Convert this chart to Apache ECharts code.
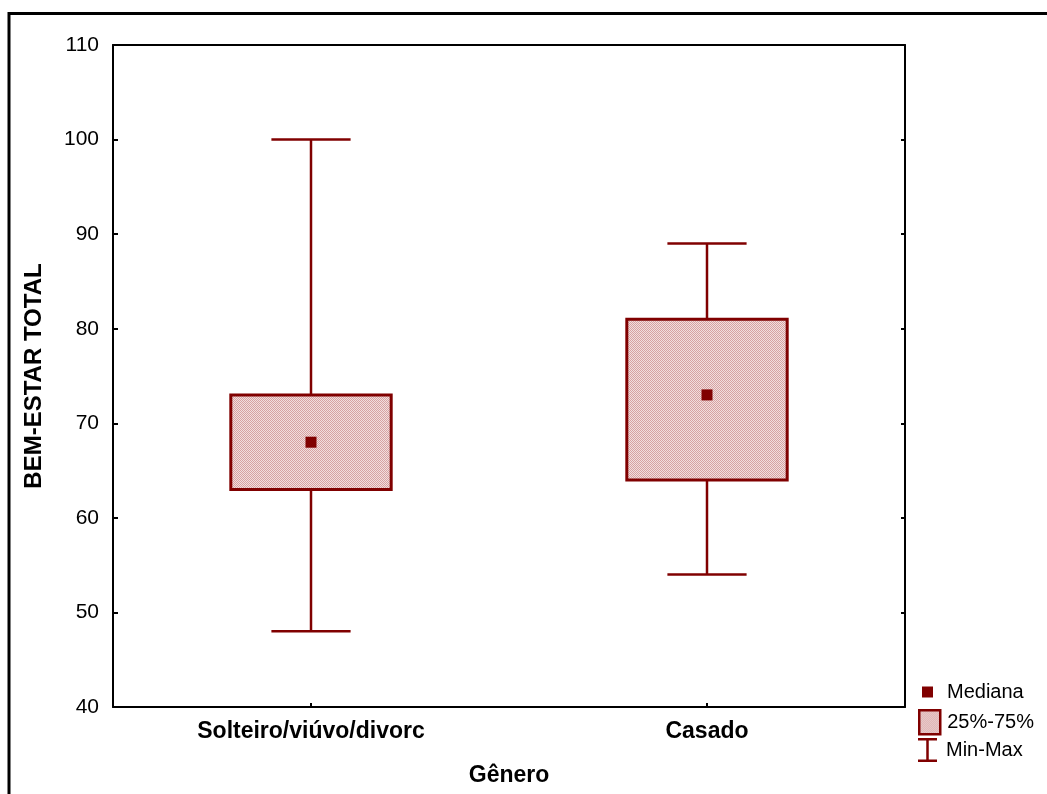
<!DOCTYPE html>
<html>
<head>
<meta charset="utf-8">
<script src="https://cdn.jsdelivr.net/npm/echarts@6/dist/echarts.min.js"></script>
<style>
  html, body { margin: 0; padding: 0; background: #fff; }
  #main { width: 1047px; height: 794px; }
</style>
</head>
<body>
<div id="main"></div>
<script>
// dados do gráfico
var categories = ['Solteiro/viúvo/divorc', 'Casado'];
var minVals = [48, 54];
var q1Vals = [63, 64];
var medianVals = [68, 73];
var q3Vals = [73, 81];
var maxVals = [100, 89];
var yTicks = { min: 40, max: 110, interval: 10 };

var DARK = '#800000';

// preenchimento quadriculado da caixa
var pat = document.createElement('canvas');
pat.width = 2; pat.height = 2;
var pctx = pat.getContext('2d');
pctx.fillStyle = '#f2dede'; pctx.fillRect(0, 0, 2, 2);
pctx.fillStyle = '#d6a2a2'; pctx.fillRect(0, 0, 1, 1); pctx.fillRect(1, 1, 1, 1);
var boxFill = { image: pat, repeat: 'repeat' };

var whiskerData = categories.map(function (c, i) {
    return [i, minVals[i], q1Vals[i], q3Vals[i], maxVals[i]];
});
var boxData = categories.map(function (c, i) {
    return [i, q1Vals[i], q3Vals[i]];
});
var medianData = categories.map(function (c, i) {
    return [i, medianVals[i]];
});

function renderWhisker(params, api) {
    var idx = api.value(0);
    var pMin = api.coord([idx, api.value(1)]);
    var pQ1 = api.coord([idx, api.value(2)]);
    var pQ3 = api.coord([idx, api.value(3)]);
    var pMax = api.coord([idx, api.value(4)]);
    var cw = api.size([1, 0])[0] * 0.2 / 2;
    var st = { stroke: DARK, lineWidth: 2.5, fill: null };
    return {
        type: 'group',
        children: [
            { type: 'line', shape: { x1: pMin[0], y1: pMin[1], x2: pQ1[0], y2: pQ1[1] }, style: st },
            { type: 'line', shape: { x1: pQ3[0], y1: pQ3[1], x2: pMax[0], y2: pMax[1] }, style: st },
            { type: 'line', shape: { x1: pMin[0] - cw, y1: pMin[1], x2: pMin[0] + cw, y2: pMin[1] }, style: st },
            { type: 'line', shape: { x1: pMax[0] - cw, y1: pMax[1], x2: pMax[0] + cw, y2: pMax[1] }, style: st }
        ]
    };
}

function renderBox(params, api) {
    var idx = api.value(0);
    var pLo = api.coord([idx, api.value(1)]);
    var pHi = api.coord([idx, api.value(2)]);
    var w = api.size([1, 0])[0] * 0.405;
    return {
        type: 'rect',
        shape: { x: pHi[0] - w / 2, y: pHi[1], width: w, height: pLo[1] - pHi[1] },
        style: { fill: boxFill, stroke: DARK, lineWidth: 3 }
    };
}

var myChart = echarts.init(document.getElementById('main'));
myChart.setOption({
    animation: false,
    textStyle: { fontFamily: 'Liberation Sans, Arial, sans-serif', color: '#000' },
    grid: { left: 113, top: 45, right: 142, bottom: 87 },
    graphic: [{
        type: 'polyline',
        shape: { points: [[9, 810], [9, 13.5], [1060, 13.5]] },
        style: { stroke: '#000', lineWidth: 3, fill: null }
    }],
    legend: [{
        data: [{ name: 'Mediana', icon: 'rect', itemStyle: { color: DARK, opacity: 1 } }],
        left: 922, top: 682, padding: 0, itemWidth: 11, itemHeight: 11, selectedMode: false,
        textStyle: { fontSize: 20, color: '#000', padding: [0, 0, 0, 9] }
    }, {
        data: [{ name: '25%-75%', icon: 'rect', itemStyle: { color: boxFill, borderColor: DARK, borderWidth: 2.5 } }],
        left: 918, top: 709, padding: 0, itemWidth: 21, itemHeight: 24, selectedMode: false,
        textStyle: { fontSize: 20, color: '#000', padding: [0, 0, 0, 2] }
    }, {
        data: [{ name: 'Min-Max', icon: 'path://M0,0H19V2.5H10.75V21.5H19V24H0V21.5H8.25V2.5H0Z', itemStyle: { color: DARK } }],
        left: 918, top: 738, padding: 0, itemWidth: 19, itemHeight: 24, selectedMode: false,
        textStyle: { fontSize: 20, color: '#000', padding: [0, 0, 0, 4] }
    }],
    xAxis: [{
        type: 'category',
        data: categories,
        name: 'Gênero',
        nameLocation: 'middle',
        nameGap: 57,
        nameTextStyle: { fontSize: 23, fontWeight: 'bold', color: '#000' },
        axisLine: { lineStyle: { color: '#000', width: 2 } },
        axisTick: { show: true, inside: true, length: 4, alignWithLabel: true, lineStyle: { color: '#000', width: 2 } },
        axisLabel: { fontSize: 23, fontWeight: 'bold', color: '#000', margin: 13 },
        splitLine: { show: false }
    }, {
        type: 'category',
        data: categories,
        position: 'top',
        axisLine: { lineStyle: { color: '#000', width: 2 } },
        axisTick: { show: false },
        axisLabel: { show: false }
    }],
    yAxis: [{
        type: 'value',
        min: yTicks.min, max: yTicks.max, interval: yTicks.interval,
        name: 'BEM-ESTAR TOTAL',
        nameLocation: 'middle',
        nameGap: 67,
        nameTextStyle: { fontSize: 24, fontWeight: 'bold', color: '#000' },
        axisLine: { show: true, lineStyle: { color: '#000', width: 2 } },
        axisTick: { show: true, inside: true, length: 5, lineStyle: { color: '#000', width: 2 } },
        axisLabel: { fontSize: 21, color: '#000', margin: 14 },
        splitLine: { show: false }
    }, {
        type: 'value',
        position: 'right',
        min: yTicks.min, max: yTicks.max, interval: yTicks.interval,
        axisLine: { show: true, lineStyle: { color: '#000', width: 2 } },
        axisTick: { show: true, inside: true, length: 4, lineStyle: { color: '#000', width: 2 } },
        axisLabel: { show: false },
        splitLine: { show: false }
    }],
    series: [{
        name: 'Min-Max',
        type: 'custom',
        renderItem: renderWhisker,
        data: whiskerData,
        encode: { x: 0, y: [1, 2, 3, 4] },
        z: 2
    }, {
        name: '25%-75%',
        type: 'custom',
        renderItem: renderBox,
        data: boxData,
        encode: { x: 0, y: [1, 2] },
        z: 3
    }, {
        name: 'Mediana',
        type: 'scatter',
        symbol: 'rect',
        symbolSize: 11,
        itemStyle: { color: DARK, opacity: 1 },
        data: medianData,
        z: 4
    }]
});
</script>
</body>
</html>
